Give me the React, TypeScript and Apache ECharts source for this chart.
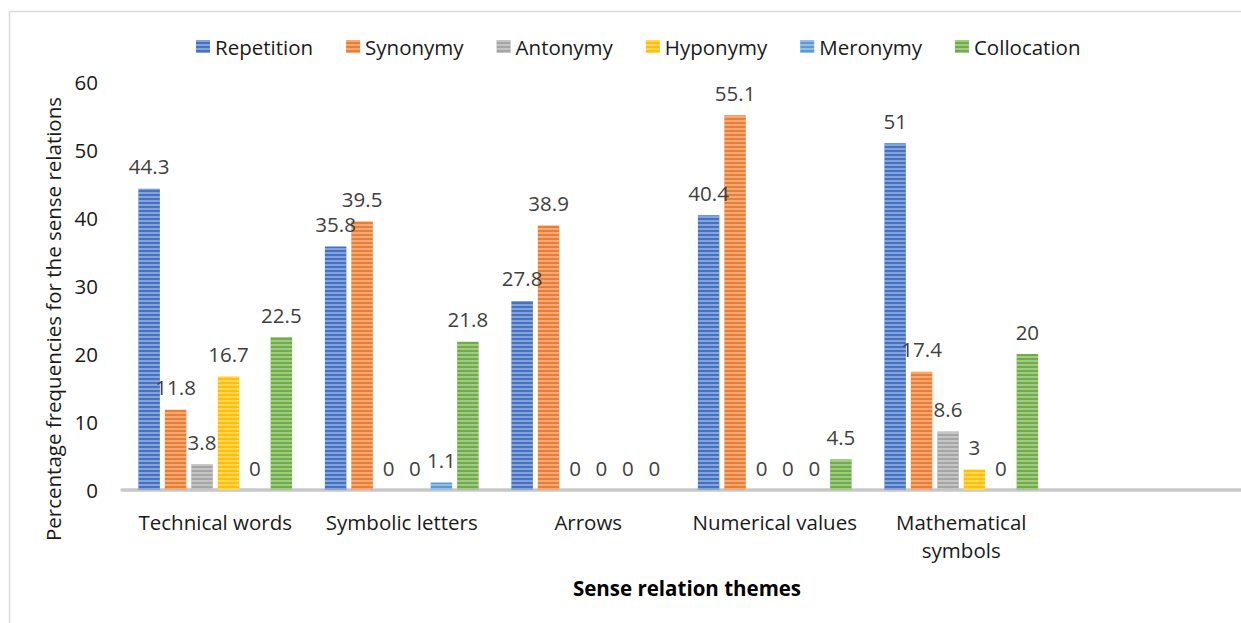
import React, { useEffect, useRef } from "react";
import * as echarts from "echarts";

const categories = ["Technical words", "Symbolic letters", "Arrows", "Numerical values", "Mathematical\nsymbols", ""];
const seriesNames = ["Repetition", "Synonymy", "Antonymy", "Hyponymy", "Meronymy", "Collocation"];
const repetition = [44.3, 35.8, 27.8, 40.4, 51];
const synonymy = [11.8, 39.5, 38.9, 55.1, 17.4];
const antonymy = [3.8, 0, 0, 0, 8.6];
const hyponymy = [16.7, 0, 0, 0, 3];
const meronymy = [0, 1.1, 0, 0, 0];
const collocation = [22.5, 21.8, 0, 4.5, 20];
const seriesValues = [repetition, synonymy, antonymy, hyponymy, meronymy, collocation];
const colors = ["#4472C4", "#ED7D31", "#A5A5A5", "#FFC000", "#5B9BD5", "#70AD47"];
const yTicks = { min: 0, max: 60, interval: 10 };

const FONT = "'Open Sans', sans-serif";
const FS = 20.5;

export default function App() {
  const ref = useRef<HTMLDivElement>(null);
  useEffect(() => {
    const chart = echarts.init(ref.current!, undefined, { renderer: "svg" });
    chart.setOption({
      animation: false,
      backgroundColor: "#ffffff",
      textStyle: { fontFamily: FONT },
      legend: {
        top: 31,
        left: 191,
        itemWidth: 14,
        itemHeight: 13,
        itemGap: 33,
        icon: "rect",
        textStyle: { fontSize: FS, color: "#1a1a1a", fontFamily: FONT },
        data: seriesNames,
      },
      grid: { left: 122, top: 82, width: 1134, height: 408, containLabel: false },
      xAxis: {
        type: "category",
        data: categories,
        axisLine: { show: true, lineStyle: { color: "#c8c8c8", width: 3.5 } },
        axisTick: { show: false },
        axisLabel: { fontSize: FS, color: "#1a1a1a", margin: 18, lineHeight: 28, fontFamily: FONT, interval: 0 },
        splitLine: { show: false },
      },
      yAxis: {
        type: "value",
        min: yTicks.min,
        max: yTicks.max,
        interval: yTicks.interval,
        axisLine: { show: false },
        axisTick: { show: false },
        splitLine: { show: false },
        axisLabel: { fontSize: FS, color: "#1a1a1a", margin: 24, fontFamily: FONT },
      },
      graphic: [
        {
          type: "rect",
          shape: { x: 9.5, y: 11.5, width: 1400, height: 800 },
          style: { fill: "none", stroke: "#d9d9d9", lineWidth: 1.5 },
          silent: true,
          z: -1,
        },
        {
          type: "text",
          x: 53,
          y: 319,
          rotation: Math.PI / 2,
          style: {
            text: "Percentage frequencies for the sense relations",
            fontSize: FS,
            fontFamily: FONT,
            fill: "#1a1a1a",
            align: "center",
            verticalAlign: "middle",
          },
        },
        {
          type: "text",
          x: 687,
          y: 588,
          style: {
            text: "Sense relation themes",
            fontSize: FS,
            fontWeight: "bold",
            fontFamily: FONT,
            fill: "#000000",
            align: "center",
            verticalAlign: "middle",
          },
        },
      ],
      series: seriesNames.map((name, i) => ({
        name,
        type: "bar",
        data: seriesValues[i],
        barWidth: 21.5,
        barGap: "23%",
        itemStyle: {
          color: colors[i],
          decal: {
            symbol: "rect",
            symbolSize: 1,
            dashArrayX: [10, 0],
            dashArrayY: [2, 2],
            color: "rgba(255,255,255,0.35)",
            rotation: 0,
          },
        },
        label: {
          show: true,
          position: "top",
          distance: 12,
          fontSize: FS,
          color: "#404040",
          fontFamily: FONT,
        },
      })),
    });
    return () => chart.dispose();
  }, []);
  return (
    <div
      ref={ref}
      style={{ position: "fixed", left: 0, top: 0, width: 1241, height: 623 }}
    />
  );
}
